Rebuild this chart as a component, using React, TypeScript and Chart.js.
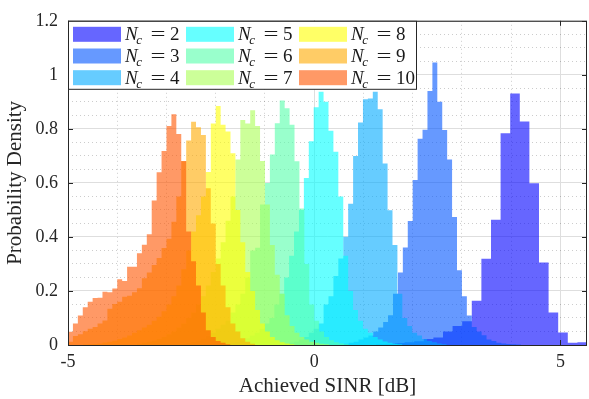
import React, { useEffect, useRef } from "react";
import { Chart, registerables } from "chart.js";

Chart.register(...registerables);

// ---------- data ----------
const ncValues = [2, 3, 4, 5, 6, 7, 8, 9, 10];

// first bin edge (dB) and bin width (dB) of each histogram
const binStarts = [1.25, 0.6, -0.71, -1.91, -2.8, -3.6, -4.7, -5.0, -5.0];
const binWidths = [0.195, 0.1, 0.1, 0.1, 0.1, 0.1, 0.1, 0.1, 0.1];

const nc2Density = [0.003, 0.005, 0.007, 0.01, 0.014, 0.022, 0.028, 0.05, 0.07, 0.088, 0.164, 0.319, 0.464, 0.784, 0.931, 0.827, 0.599, 0.305, 0.12, 0.046, 0.008, 0.01];
const nc3Density = [0.005, 0.008, 0.012, 0.02, 0.028, 0.035, 0.05, 0.065, 0.085, 0.11, 0.19, 0.268, 0.361, 0.459, 0.611, 0.763, 0.797, 0.94, 1.046, 0.9, 0.796, 0.687, 0.474, 0.277, 0.18, 0.109, 0.067, 0.05, 0.036, 0.02, 0.015, 0.008, 0.006, 0.004, 0.003, 0.002];
const nc4Density = [0.003, 0.005, 0.008, 0.013, 0.02, 0.03, 0.045, 0.06, 0.08, 0.15, 0.18, 0.255, 0.32, 0.401, 0.523, 0.7, 0.824, 0.91, 0.912, 0.937, 0.873, 0.672, 0.499, 0.37, 0.19, 0.1, 0.07, 0.045, 0.035, 0.022, 0.015, 0.01, 0.006, 0.003];
const nc5Density = [0.003, 0.005, 0.008, 0.012, 0.018, 0.025, 0.035, 0.045, 0.06, 0.08, 0.1, 0.15, 0.19, 0.25, 0.33, 0.42, 0.5, 0.618, 0.754, 0.88, 0.937, 0.9, 0.793, 0.715, 0.55, 0.33, 0.2, 0.13, 0.09, 0.06, 0.045, 0.03, 0.02, 0.013, 0.008, 0.005, 0.003];
const nc6Density = [0.003, 0.005, 0.008, 0.012, 0.018, 0.025, 0.035, 0.045, 0.06, 0.075, 0.09, 0.12, 0.15, 0.19, 0.25, 0.35, 0.36, 0.52, 0.6, 0.705, 0.821, 0.905, 0.876, 0.815, 0.68, 0.505, 0.3, 0.15, 0.09, 0.05, 0.03, 0.018, 0.01, 0.006, 0.003];
const nc7Density = [0.005, 0.008, 0.012, 0.016, 0.022, 0.03, 0.04, 0.05, 0.065, 0.08, 0.1, 0.12, 0.15, 0.18, 0.22, 0.27, 0.32, 0.38, 0.46, 0.55, 0.687, 0.833, 0.82, 0.869, 0.811, 0.681, 0.52, 0.37, 0.26, 0.19, 0.11, 0.07, 0.045, 0.03, 0.02, 0.012, 0.008, 0.005, 0.003];
const nc8Density = [0.002, 0.003, 0.004, 0.006, 0.009, 0.012, 0.016, 0.022, 0.028, 0.035, 0.045, 0.055, 0.065, 0.075, 0.09, 0.105, 0.125, 0.15, 0.18, 0.22, 0.28, 0.35, 0.42, 0.48, 0.55, 0.64, 0.82, 0.885, 0.815, 0.79, 0.71, 0.5, 0.38, 0.27, 0.2, 0.13, 0.08, 0.05, 0.03, 0.018, 0.01, 0.006, 0.003];
const nc9Density = [0.012, 0.033, 0.04, 0.051, 0.06, 0.067, 0.08, 0.091, 0.134, 0.152, 0.16, 0.179, 0.182, 0.195, 0.21, 0.247, 0.268, 0.296, 0.322, 0.359, 0.393, 0.456, 0.55, 0.68, 0.757, 0.826, 0.806, 0.777, 0.58, 0.45, 0.3, 0.22, 0.14, 0.08, 0.05, 0.025, 0.012, 0.005];
const nc10Density = [0.049, 0.08, 0.109, 0.14, 0.16, 0.174, 0.175, 0.197, 0.195, 0.209, 0.243, 0.237, 0.29, 0.29, 0.34, 0.371, 0.41, 0.535, 0.639, 0.718, 0.811, 0.854, 0.781, 0.681, 0.42, 0.31, 0.22, 0.12, 0.055, 0.03, 0.015, 0.008, 0.003];

const densities = [nc2Density, nc3Density, nc4Density, nc5Density, nc6Density, nc7Density, nc8Density, nc9Density, nc10Density];

const xMin = -5;
const xMax = 5.54;
const yMax = 1.2;

// ---------- styles ----------
const baseColors = [
  [0, 0, 255],
  [0, 85, 255],
  [0, 170, 255],
  [0, 255, 255],
  [85, 255, 170],
  [170, 255, 85],
  [255, 255, 0],
  [255, 170, 0],
  [255, 85, 0],
];
const FACE_ALPHA = 0.6;
const fillColor = (c: number[]) => `rgba(${c[0]},${c[1]},${c[2]},${FACE_ALPHA})`;
const SERIF = "'Liberation Serif', 'Times New Roman', serif";
const AXIS_COLOR = "#262626";
const MINOR_GRID = "rgba(0,0,0,0.2)";

function histogramPoints(start: number, width: number, heights: number[]) {
  const pts = [{ x: start, y: 0 }];
  heights.forEach((h, i) => pts.push({ x: start + i * width, y: h }));
  pts.push({ x: start + heights.length * width, y: 0 });
  return pts;
}

const isMultiple = (v: number, step: number) => Math.abs(v / step - Math.round(v / step)) < 1e-6;

const framePlugin = {
  id: "frame",
  afterDatasetsDraw(chart: any) {
    const { ctx, chartArea } = chart;
    const { left, right, top, bottom } = chartArea;
    const xs = chart.scales.x;
    const ys = chart.scales.y;
    ctx.save();
    ctx.strokeStyle = AXIS_COLOR;
    ctx.lineWidth = 1;
    const tl = 5;
    ctx.beginPath();
    ys.ticks.forEach((t: any) => {
      const y = Math.round(ys.getPixelForValue(t.value)) + 0.5;
      ctx.moveTo(left, y);
      ctx.lineTo(left + tl, y);
      ctx.moveTo(right, y);
      ctx.lineTo(right - tl, y);
    });
    xs.ticks.forEach((t: any) => {
      const x = Math.round(xs.getPixelForValue(t.value)) + 0.5;
      ctx.moveTo(x, bottom);
      ctx.lineTo(x, bottom - tl);
      ctx.moveTo(x, top);
      ctx.lineTo(x, top + tl);
    });
    ctx.stroke();
    ctx.strokeRect(left + 0.5, top + 0.5, right - left - 1, bottom - top);
    ctx.restore();
  },
};

const legendPlugin = {
  id: "ncLegend",
  afterDraw(chart: any) {
    const { ctx, chartArea } = chart;
    const { left, top } = chartArea;
    ctx.save();
    const boxW = 348;
    const boxH = 68;
    ctx.fillStyle = "#ffffff";
    ctx.fillRect(left + 0.5, top + 0.5, boxW, boxH);
    ctx.strokeStyle = AXIS_COLOR;
    ctx.lineWidth = 1;
    ctx.strokeRect(left + 0.5, top + 0.5, boxW, boxH);
    ncValues.forEach((nc, i) => {
      const col = Math.floor(i / 3);
      const row = i % 3;
      const sx = left + 5 + col * 113;
      const sy = top + 6 + row * 21.7;
      ctx.fillStyle = fillColor(baseColors[i]);
      ctx.fillRect(sx, sy, 48, 15);
      const tx = sx + 52;
      const ty = sy + 13.3;
      ctx.fillStyle = "#1a1a1a";
      ctx.textBaseline = "alphabetic";
      ctx.textAlign = "left";
      ctx.font = `italic 19px ${SERIF}`;
      ctx.fillText("N", tx, ty);
      const wN = ctx.measureText("N").width;
      ctx.font = `italic 13px ${SERIF}`;
      ctx.fillText("c", tx + wN - 1.5, ty + 4);
      ctx.font = `19px ${SERIF}`;
      ctx.textAlign = "center";
      ctx.save();
      ctx.translate(tx + 33, 0);
      ctx.scale(1.4, 1);
      ctx.fillText("=", 0, ty);
      ctx.restore();
      ctx.textAlign = "left";
      ctx.fillText(String(nc), tx + 45, ty);
    });
    ctx.restore();
  },
};

export default function App() {
  const canvasRef = useRef<HTMLCanvasElement | null>(null);

  useEffect(() => {
    document.body.style.margin = "0";
    const canvas = canvasRef.current;
    if (!canvas) return;

    const datasets = ncValues.map((nc, i) => ({
      label: `N_c = ${nc}`,
      data: histogramPoints(binStarts[i], binWidths[i], densities[i]),
      stepped: true,
      fill: "origin",
      backgroundColor: fillColor(baseColors[i]),
      borderColor: "rgba(0,0,0,0)",
      borderWidth: 0,
      pointRadius: 0,
      pointHoverRadius: 0,
      order: 10 - nc,
    }));

    const chart = new Chart(canvas, {
      type: "line",
      data: { datasets: datasets as any },
      plugins: [framePlugin, legendPlugin],
      options: {
        animation: false,
        responsive: false,
        devicePixelRatio: 1,
        events: [],
        layout: { padding: { top: 16, right: 2, left: 0, bottom: 0 } },
        plugins: {
          legend: { display: false },
          tooltip: { enabled: false },
        },
        scales: {
          x: {
            type: "linear",
            position: "bottom",
            min: xMin,
            max: xMax,
            ticks: {
              stepSize: 5,
              includeBounds: false,
              padding: 6,
              color: AXIS_COLOR,
              font: { family: SERIF, size: 18 },
              callback: (v: any) => String(v),
            },
            grid: { color: "#dedede", lineWidth: 1, drawTicks: false },
            border: { display: false },
            title: {
              display: true,
              text: "Achieved SINR [dB]",
              color: AXIS_COLOR,
              font: { family: SERIF, size: 21 },
              padding: { top: 0, bottom: 0 },
            },
            afterFit: (s: any) => {
              s.height = 54;
            },
          },
          xm: {
            type: "linear",
            axis: "x",
            position: "bottom",
            min: xMin,
            max: xMax,
            ticks: { display: false, stepSize: 1, includeBounds: false },
            grid: {
              drawTicks: false,
              lineWidth: 1,
              color: (c: any) => (c.tick && isMultiple(c.tick.value, 5) ? "rgba(0,0,0,0)" : MINOR_GRID),
            },
            border: { display: false, dash: [1, 3] },
            afterFit: (s: any) => {
              s.height = 0;
            },
          },
          y: {
            type: "linear",
            position: "left",
            min: 0,
            max: yMax,
            ticks: {
              stepSize: 0.2,
              padding: 10,
              color: AXIS_COLOR,
              font: { family: SERIF, size: 18 },
              callback: (v: any) => String(Number(Number(v).toFixed(1))),
            },
            grid: { color: "#dedede", lineWidth: 1, drawTicks: false },
            border: { display: false },
            title: {
              display: true,
              text: "Probability Density",
              color: AXIS_COLOR,
              font: { family: SERIF, size: 21 },
              padding: { top: 3, bottom: 0 },
            },
            afterFit: (s: any) => {
              s.width = 68;
            },
          },
          ym: {
            type: "linear",
            axis: "y",
            position: "left",
            min: 0,
            max: yMax,
            ticks: { display: false, stepSize: 0.05, includeBounds: false },
            grid: {
              drawTicks: false,
              lineWidth: 1,
              color: (c: any) => (c.tick && isMultiple(c.tick.value, 0.2) ? "rgba(0,0,0,0)" : MINOR_GRID),
            },
            border: { display: false, dash: [1, 3] },
            afterFit: (s: any) => {
              s.width = 0;
            },
          },
        },
      } as any,
    });

    return () => chart.destroy();
  }, []);

  return (
    <div style={{ width: 589, height: 399 }}>
      <canvas ref={canvasRef} width={589} height={399} style={{ display: "block" }} />
    </div>
  );
}
